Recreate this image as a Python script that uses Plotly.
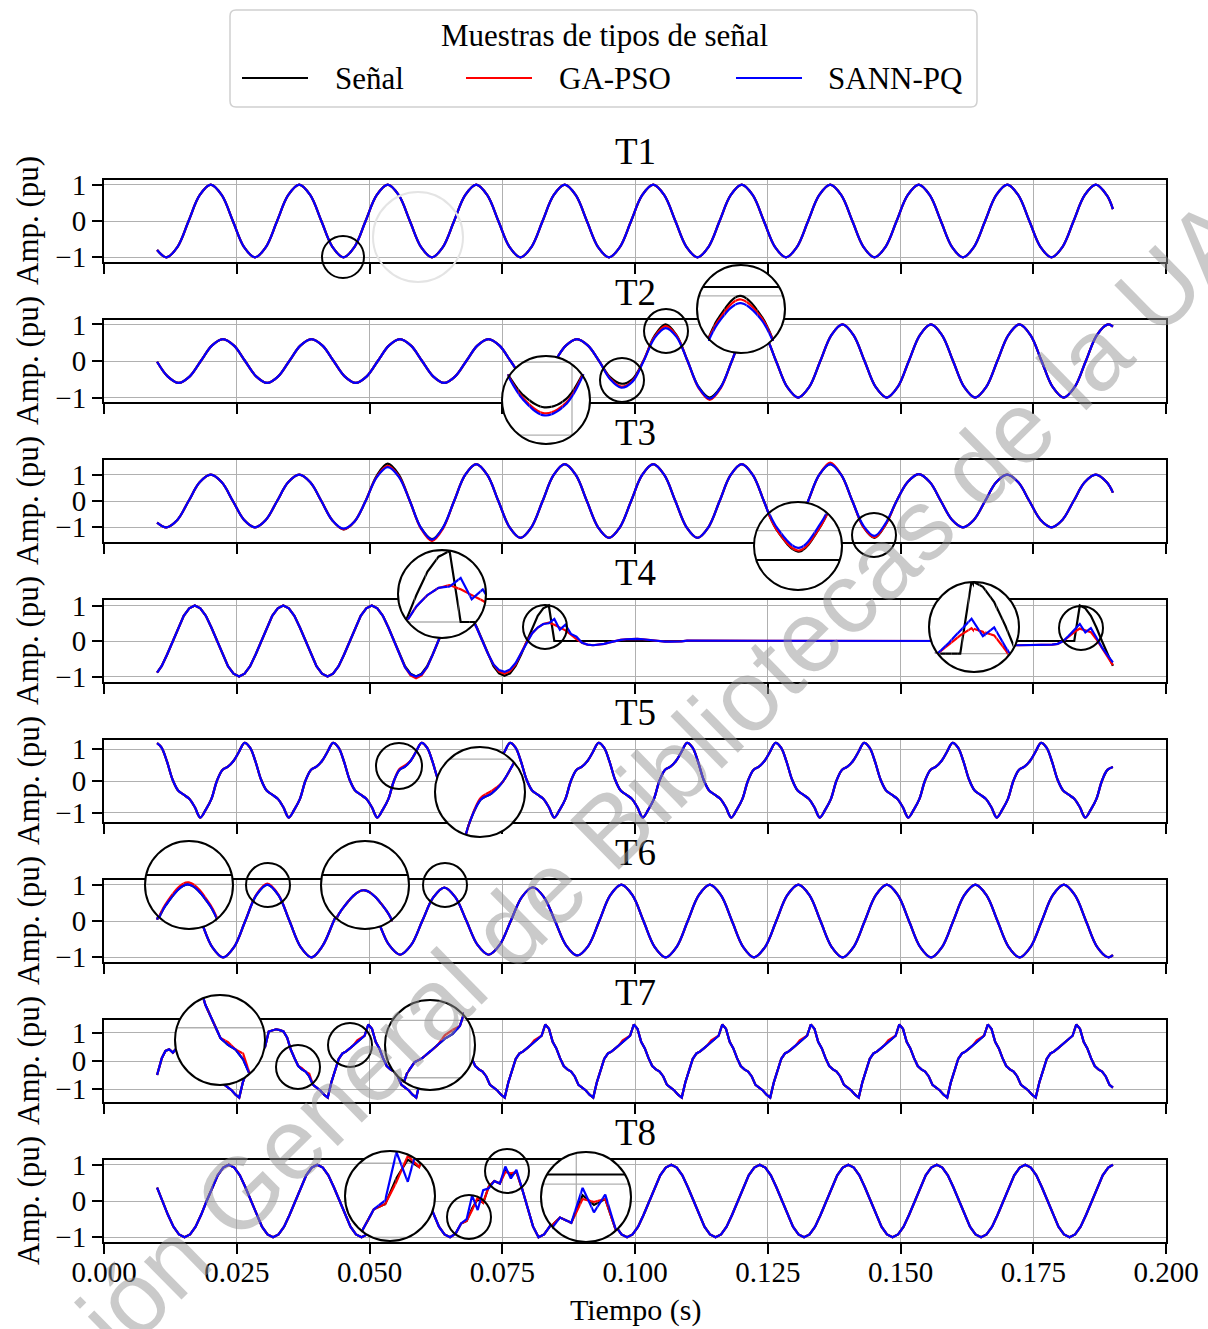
import numpy as np
import plotly.graph_objects as go

# ------------------------------------------------------------------
# Records: three traces per disturbance type (T1..T8), amplitude in pu
# over 0.01 s .. 0.19 s.  Each record is sampled on a regular clock
# locked to one reference crest/trough (ref_*, spc_* = samples/cycle at
# 60 Hz) plus the first and last instants.
# ------------------------------------------------------------------
T_FIRST, T_LAST = 0.01, 0.19
tick_times = [0.0, 0.025, 0.05, 0.075, 0.1, 0.125, 0.15, 0.175, 0.2]
tick_labels = ["0.000", "0.025", "0.050", "0.075", "0.100", "0.125", "0.150", "0.175", "0.200"]
amp_ticks = [-1, 0, 1]
titles = ["T1", "T2", "T3", "T4", "T5", "T6", "T7", "T8"]

# T1 - pure sine
ref_T1, spc_T1 = 0.0201, 8
senal_T1 = [
    -0.80,
    -1.00, -0.71, 0.00, 0.71,
    1.00, 0.71, 0.00, -0.71, -1.00, -0.71, 0.00, 0.71,
    1.00, 0.71, 0.00, -0.71, -1.00, -0.71, 0.00, 0.71,
    1.00, 0.71, 0.00, -0.71, -1.00, -0.71, 0.00, 0.71,
    1.00, 0.71, 0.00, -0.71, -1.00, -0.71, 0.00, 0.71,
    1.00, 0.71, 0.00, -0.71, -1.00, -0.71, 0.00, 0.71,
    1.00, 0.71, 0.00, -0.71, -1.00, -0.71, 0.00, 0.71,
    1.00, 0.71, 0.00, -0.71, -1.00, -0.71, 0.00, 0.71,
    1.00, 0.71, 0.00, -0.71, -1.00, -0.71, 0.00, 0.71,
    1.00, 0.71, 0.00, -0.71, -1.00, -0.71, 0.00, 0.71,
    1.00, 0.71, 0.00, -0.71, -1.00, -0.71, 0.00, 0.71,
    1.00, 0.71,
    0.33,
]
gapso_T1 = list(senal_T1)
sannpq_T1 = list(senal_T1)

# T2 - sag (0.6 pu) recovering near 0.1 s
ref_T2, spc_T2 = 0.0224, 8
senal_T2 = [
    -0.02,
    -0.42, -0.60, -0.42, 0.00, 0.42,
    0.60, 0.42, 0.00, -0.42, -0.60, -0.42, 0.00, 0.42,
    0.60, 0.42, 0.00, -0.42, -0.60, -0.42, 0.00, 0.42,
    0.60, 0.42, 0.00, -0.42, -0.60, -0.42, 0.00, 0.42,
    0.60, 0.42, 0.00, -0.42, -0.60, -0.42, 0.00, 0.42,
    0.60, 0.42, 0.00, -0.44, -0.62, -0.50, 0.00, 0.68,
    1.00, 0.71, 0.00, -0.71, -1.00, -0.71, 0.00, 0.71,
    1.00, 0.71, 0.00, -0.71, -1.00, -0.71, 0.00, 0.71,
    1.00, 0.71, 0.00, -0.71, -1.00, -0.71, 0.00, 0.71,
    1.00, 0.71, 0.00, -0.71, -1.00, -0.71, 0.00, 0.71,
    1.00, 0.71, 0.00, -0.71, -1.00, -0.71, 0.00, 0.71,
    1.00,
    0.94,
]
gapso_T2_dev = {0.0953: -0.48, 0.0974: -0.70, 0.0995: -0.55, 0.1036: 0.65, 0.1057: 0.95,
                0.1078: 0.69, 0.1120: -0.74, 0.1141: -1.06, 0.1162: -0.74}
sannpq_T2_dev = {0.0953: -0.50, 0.0974: -0.73, 0.0995: -0.57, 0.1016: -0.02, 0.1036: 0.62,
                 0.1057: 0.90, 0.1078: 0.66, 0.1120: -0.72, 0.1141: -1.03, 0.1162: -0.72}

# T3 - swell (1.4 pu) between 0.047 s and 0.15 s
ref_T3, spc_T3 = 0.0201, 8
senal_T3 = [
    -0.82,
    -1.00, -0.71, 0.00, 0.71,
    1.00, 0.71, 0.00, -0.71, -1.00, -0.71, 0.00, 0.71,
    1.00, 0.71, 0.00, -0.74, -1.08, -0.78, 0.00, 0.96,
    1.42, 1.00, 0.00, -1.02, -1.45, -1.01, 0.00, 0.99,
    1.40, 0.99, 0.00, -0.99, -1.40, -0.99, 0.00, 0.99,
    1.40, 0.99, 0.00, -0.99, -1.40, -0.99, 0.00, 0.99,
    1.40, 0.99, 0.00, -0.99, -1.40, -0.99, 0.00, 0.99,
    1.40, 0.99, 0.00, -1.00, -1.42, -1.00, 0.00, 0.99,
    1.40, 0.99, 0.00, -0.99, -1.40, -0.90, 0.00, 0.72,
    1.02, 0.72, 0.00, -0.71, -1.00, -0.71, 0.00, 0.71,
    1.00, 0.71, 0.00, -0.71, -1.00, -0.71, 0.00, 0.71,
    1.00, 0.71,
    0.32,
]
gapso_T3_dev = {0.0513: 0.92, 0.0534: 1.34, 0.0555: 0.95, 0.0597: -1.05, 0.0618: -1.52,
                0.0638: -1.05, 0.1284: -1.45, 0.1368: 1.46, 0.1451: -1.38}
sannpq_T3_dev = {0.0451: -1.05, 0.0513: 0.90, 0.0534: 1.29, 0.0555: 0.92, 0.0618: -1.47,
                 0.1430: -0.94, 0.1451: -1.33, 0.1472: -0.85}

# T4 - interruption 0.084 s .. 0.184 s
ref_T4, spc_T4 = 0.0171, 16
senal_T4 = [
    -0.89,
    -0.71, -0.38, 0.00, 0.38, 0.71, 0.92,
    1.00, 0.92, 0.71, 0.38, 0.00, -0.38, -0.71, -0.92, -1.00, -0.92, -0.71, -0.38, 0.00, 0.38, 0.71, 0.92,
    1.00, 0.92, 0.71, 0.38, 0.00, -0.38, -0.71, -0.92, -1.00, -0.92, -0.71, -0.38, 0.00, 0.38, 0.71, 0.92,
    1.00, 0.92, 0.71, 0.38, 0.00, -0.38, -0.71, -0.92, -1.00, -0.92, -0.71, -0.38, 0.00, 0.38, 0.71, 0.92,
    1.00, 0.92, 0.71, 0.38, 0.00, -0.38, -0.71, -0.91, -0.98, -0.91, -0.70, -0.38, 0.00, 0.38, 0.71, 0.92,
    1.00,
    0.00, 0.00, 0.00, 0.00, 0.00, 0.00, 0.00, 0.00, 0.00, 0.00, 0.00, 0.00, 0.00, 0.00, 0.00, 0.00,
    0.00, 0.00, 0.00, 0.00, 0.00, 0.00, 0.00, 0.00, 0.00, 0.00, 0.00, 0.00, 0.00, 0.00, 0.00, 0.00,
    0.00, 0.00, 0.00, 0.00, 0.00, 0.00, 0.00, 0.00, 0.00, 0.00, 0.00, 0.00, 0.00, 0.00, 0.00, 0.00,
    0.00, 0.00, 0.00, 0.00, 0.00, 0.00, 0.00, 0.00, 0.00, 0.00, 0.00, 0.00, 0.00, 0.00, 0.00, 0.00,
    0.00, 0.00, 0.00, 0.00, 0.00, 0.00, 0.00, 0.00, 0.00, 0.00, 0.00, 0.00, 0.00, 0.00, 0.00, 0.00,
    0.00, 0.00, 0.00, 0.00, 0.00, 0.00, 0.00, 0.00, 0.00, 0.00, 0.00, 0.00, 0.00, 0.00, 0.00,
    1.00, 0.92, 0.71, 0.38, 0.00, -0.38,
    -0.70,
]
gapso_T4 = [
    -0.89,
    -0.71, -0.38, 0.00, 0.38, 0.71, 0.92,
    1.00, 0.92, 0.71, 0.38, 0.00, -0.38, -0.71, -0.92, -1.00, -0.92, -0.71, -0.38, 0.00, 0.38, 0.71, 0.92,
    1.00, 0.92, 0.71, 0.38, 0.00, -0.38, -0.71, -0.92, -1.00, -0.92, -0.71, -0.38, 0.00, 0.38, 0.71, 0.92,
    1.00, 0.92, 0.71, 0.38, 0.00, -0.39, -0.74, -0.97, -1.05, -0.97, -0.74, -0.39, 0.00, 0.38, 0.70, 0.88,
    0.95, 0.87, 0.67, 0.36, 0.00, -0.36, -0.66, -0.86, -0.92, -0.85, -0.66, -0.36, -0.02, 0.22, 0.38, 0.48,
    0.52, 0.46, 0.38, 0.30, 0.18, 0.05, -0.05, -0.10, -0.12, -0.11, -0.08, -0.04, 0.00, 0.03, 0.05,
    0.06, 0.06, 0.05, 0.03, 0.01, -0.01, -0.02, -0.02, -0.02, -0.01,
    0.01, 0.01, 0.01, 0.01, 0.01, 0.01, 0.01, 0.01, 0.01, 0.01, 0.01, 0.01, 0.01,
    0.01, 0.01, 0.01, 0.01, 0.01, 0.01, 0.01, 0.01, 0.01, 0.01, 0.01, 0.01, 0.01,
    0.01, 0.01, 0.01, 0.01, 0.01, 0.01, 0.01, 0.01, 0.01, 0.01, 0.01, 0.01, 0.01,
    0.01, 0.01, 0.01, 0.01, 0.01, 0.01, 0.01, 0.01, 0.01, 0.01, 0.01, 0.01, 0.01,
    0.00, -0.02, -0.04, -0.06, -0.08, -0.10, -0.11, -0.12, -0.12, -0.12, -0.12, -0.11, -0.10,
    -0.10, -0.10, -0.08, 0.00, 0.12, 0.25,
    0.35, 0.30, 0.25, 0.05, -0.20, -0.45,
    -0.68,
]
sannpq_T4_dev = {0.0577: -0.94, 0.0588: -1.00, 0.0598: -0.94, 0.0744: -0.82, 0.0754: -0.87,
                 0.0765: -0.80, 0.0775: -0.62, 0.0786: -0.34, 0.0838: 0.50, 0.0848: 0.62,
                 0.0859: 0.32, 0.0869: 0.46, 0.0879: 0.20, 0.0890: 0.12, 0.1817: 0.15,
                 0.1827: 0.32, 0.1838: 0.48, 0.1848: 0.24, 0.1859: 0.36, 0.1869: 0.10,
                 0.1879: -0.18, 0.1890: -0.40, 0.1900: -0.60}

# T5 - harmonic distortion
ref_T5, spc_T5 = 0.0098, 16
senal_T5 = [
    1.19,
    1.05, 0.60, 0.04, -0.30, -0.43, -0.56, -0.82, -1.15, -0.90, -0.57, 0.00, 0.35, 0.45, 0.63, 0.92,
    1.20, 1.05, 0.60, 0.04, -0.30, -0.43, -0.56, -0.82, -1.15, -0.90, -0.57, 0.00, 0.35, 0.45, 0.63, 0.92,
    1.20, 1.05, 0.60, 0.04, -0.30, -0.43, -0.56, -0.82, -1.15, -0.90, -0.57, 0.00, 0.35, 0.45, 0.63, 0.92,
    1.20, 1.05, 0.60, 0.04, -0.30, -0.43, -0.56, -0.82, -1.15, -0.90, -0.57, 0.00, 0.35, 0.45, 0.63, 0.92,
    1.20, 1.05, 0.60, 0.04, -0.30, -0.43, -0.56, -0.82, -1.15, -0.90, -0.57, 0.00, 0.35, 0.45, 0.63, 0.92,
    1.20, 1.05, 0.60, 0.04, -0.30, -0.43, -0.56, -0.82, -1.15, -0.90, -0.57, 0.00, 0.35, 0.45, 0.63, 0.92,
    1.20, 1.05, 0.60, 0.04, -0.30, -0.43, -0.56, -0.82, -1.15, -0.90, -0.57, 0.00, 0.35, 0.45, 0.63, 0.92,
    1.20, 1.05, 0.60, 0.04, -0.30, -0.43, -0.56, -0.82, -1.15, -0.90, -0.57, 0.00, 0.35, 0.45, 0.63, 0.92,
    1.20, 1.05, 0.60, 0.04, -0.30, -0.43, -0.56, -0.82, -1.15, -0.90, -0.57, 0.00, 0.35, 0.45, 0.63, 0.92,
    1.20, 1.05, 0.60, 0.04, -0.30, -0.43, -0.56, -0.82, -1.15, -0.90, -0.57, 0.00, 0.35, 0.45, 0.63, 0.92,
    1.20, 1.05, 0.60, 0.04, -0.30, -0.43, -0.56, -0.82, -1.15, -0.90, -0.57, 0.00, 0.35,
    0.44,
]
gapso_T5_dev = {0.0556: 0.38, 0.0567: 0.49}
sannpq_T5 = list(senal_T5)

# T6 - light sag between 0.045 s and 0.095 s
ref_T6, spc_T6 = 0.0141, 8
senal_T6 = [
    0.04,
    0.71,
    1.00, 0.71, 0.00, -0.71, -1.00, -0.71, 0.00, 0.71,
    1.00, 0.71, 0.00, -0.71, -1.00, -0.68, 0.00, 0.65,
    0.90, 0.65, 0.00, -0.66, -0.93, -0.66, 0.00, 0.65,
    0.92, 0.65, 0.00, -0.66, -0.93, -0.66, 0.00, 0.66,
    0.93, 0.66, 0.00, -0.67, -0.95, -0.69, 0.00, 0.71,
    1.00, 0.71, 0.00, -0.71, -1.00, -0.71, 0.00, 0.71,
    1.00, 0.71, 0.00, -0.71, -1.00, -0.71, 0.00, 0.71,
    1.00, 0.71, 0.00, -0.71, -1.00, -0.71, 0.00, 0.71,
    1.00, 0.71, 0.00, -0.71, -1.00, -0.71, 0.00, 0.71,
    1.00, 0.71, 0.00, -0.71, -1.00, -0.71, 0.00, 0.71,
    1.00, 0.71, 0.00, -0.71, -1.00,
    -0.94,
]
gapso_T6_dev = {0.0287: 0.73, 0.0308: 1.03, 0.0329: 0.73}
sannpq_T6 = list(senal_T6)

# T7 - harmonics with notching
ref_T7, spc_T7 = 0.0088, 24
senal_T7 = [
    -0.50,
    -0.35, 0.10, 0.36, 0.42, 0.30, 0.45, 0.60, 0.75, 0.90, 1.25, 1.15, 0.70, 0.45, 0.10, -0.18, -0.30, -0.38, -0.55, -0.85, -0.95, -1.05, -1.20,
    -1.30, -0.75, -0.36, 0.00, 0.20, 0.30, 0.36, 0.50, 1.05, 1.10, 1.13, 1.10, 1.05, 0.83, 0.40, 0.10, -0.18, -0.30, -0.38, -0.55, -0.85, -0.95, -1.05, -1.20,
    -1.30, -0.75, -0.30, 0.08, 0.27, 0.34, 0.45, 0.56, 0.68, 0.76, 0.90, 1.30, 1.15, 0.68, 0.45, 0.10, -0.18, -0.30, -0.38, -0.55, -0.85, -0.95, -1.05, -1.20,
    -1.30, -0.75, -0.30, 0.08, 0.27, 0.34, 0.45, 0.56, 0.68, 0.76, 0.90, 1.30, 1.15, 0.68, 0.45, 0.10, -0.18, -0.30, -0.38, -0.55, -0.85, -0.95, -1.05, -1.20,
    -1.30, -0.75, -0.30, 0.08, 0.27, 0.34, 0.45, 0.56, 0.68, 0.76, 0.90, 1.30, 1.15, 0.68, 0.45, 0.10, -0.18, -0.30, -0.38, -0.55, -0.85, -0.95, -1.05, -1.20,
    -1.30, -0.75, -0.30, 0.08, 0.27, 0.34, 0.45, 0.56, 0.68, 0.76, 0.90, 1.30, 1.15, 0.68, 0.45, 0.10, -0.18, -0.30, -0.38, -0.55, -0.85, -0.95, -1.05, -1.20,
    -1.30, -0.75, -0.30, 0.08, 0.27, 0.34, 0.45, 0.56, 0.68, 0.76, 0.90, 1.30, 1.15, 0.68, 0.45, 0.10, -0.18, -0.30, -0.38, -0.55, -0.85, -0.95, -1.05, -1.20,
    -1.30, -0.75, -0.30, 0.08, 0.27, 0.34, 0.45, 0.56, 0.68, 0.76, 0.90, 1.30, 1.15, 0.68, 0.45, 0.10, -0.18, -0.30, -0.38, -0.55, -0.85, -0.95, -1.05, -1.20,
    -1.30, -0.75, -0.30, 0.08, 0.27, 0.34, 0.45, 0.56, 0.68, 0.76, 0.90, 1.30, 1.15, 0.68, 0.45, 0.10, -0.18, -0.30, -0.38, -0.55, -0.85, -0.95, -1.05, -1.20,
    -1.30, -0.75, -0.30, 0.08, 0.27, 0.34, 0.45, 0.56, 0.68, 0.76, 0.90, 1.30, 1.15, 0.68, 0.45, 0.10, -0.18, -0.30, -0.38, -0.55, -0.85, -0.95, -1.05, -1.20,
    -1.30, -0.75, -0.30, 0.08, 0.27, 0.34, 0.45, 0.56, 0.68, 0.76, 0.90, 1.30, 1.15, 0.68, 0.45, 0.10, -0.18, -0.30, -0.38, -0.55, -0.85,
    -0.95,
]
gapso_T7_dev = {0.0373: -0.25, 0.0387: -0.45,
                0.0477: 0.74, 0.0484: 0.83, 0.0644: 0.74, 0.0651: 0.83,
                0.0810: 0.74, 0.0817: 0.83, 0.0977: 0.74, 0.0984: 0.83,
                0.1144: 0.74, 0.1151: 0.83, 0.1310: 0.74, 0.1317: 0.83,
                0.1477: 0.74, 0.1484: 0.83, 0.1644: 0.74, 0.1651: 0.83}
sannpq_T7 = list(senal_T7)

# T8 - oscillatory transient near 0.068 s
ref_T8, spc_T8 = 0.0235, 16
senal_T8 = [
    0.37,
    0.00, -0.38, -0.71, -0.92, -1.00, -0.92, -0.71, -0.38, 0.00, 0.38, 0.71, 0.92,
    1.00, 0.92, 0.71, 0.38, 0.00, -0.38, -0.71, -0.92, -1.00, -0.92, -0.71, -0.38, 0.00, 0.38, 0.71, 0.92,
    1.00, 0.92, 0.71, 0.38, 0.00, -0.38, -0.71, -0.92, -1.00, -0.92, -0.71, -0.38, 0.00, 0.38, 0.71, 0.92,
    1.00, 0.92, 0.71, 0.38, 0.00, -0.38, -0.71, -0.92, -1.00, -0.90, -0.62, -0.55, -0.20, 0.05, -0.05, 0.40,
    0.55, 0.48, 0.85, 0.72, 0.80, 0.35, -0.15, -0.70, -1.00, -0.92, -0.71, -0.38, 0.00, 0.38, 0.71, 0.92,
    1.00, 0.92, 0.71, 0.38, 0.00, -0.38, -0.71, -0.92, -1.00, -0.92, -0.71, -0.38, 0.00, 0.38, 0.71, 0.92,
    1.00, 0.92, 0.71, 0.38, 0.00, -0.38, -0.71, -0.92, -1.00, -0.92, -0.71, -0.38, 0.00, 0.38, 0.71, 0.92,
    1.00, 0.92, 0.71, 0.38, 0.00, -0.38, -0.71, -0.92, -1.00, -0.92, -0.71, -0.38, 0.00, 0.38, 0.71, 0.92,
    1.00, 0.92, 0.71, 0.38, 0.00, -0.38, -0.71, -0.92, -1.00, -0.92, -0.71, -0.38, 0.00, 0.38, 0.71, 0.92,
    1.00, 0.92, 0.71, 0.38, 0.00, -0.38, -0.71, -0.92, -1.00, -0.92, -0.71, -0.38, 0.00, 0.38, 0.71, 0.92,
    1.00, 0.92, 0.71, 0.38, 0.00, -0.38, -0.71, -0.92, -1.00, -0.92, -0.71, -0.38, 0.00, 0.38, 0.71, 0.92,
    1.00,
]
gapso_T8_dev = {0.0694: -0.25, 0.0704: 0.10, 0.0756: 0.80, 0.0766: 0.76}
sannpq_T8_dev = {0.0683: -0.50, 0.0694: 0.15, 0.0704: -0.25, 0.0714: 0.30, 0.0725: 0.35,
                 0.0756: 0.95, 0.0766: 0.62, 0.0777: 0.86}


# ------------------------------------------------------------------
def time_base(ref, per_cycle, n):
    step = 1.0 / (60.0 * per_cycle)
    k0 = int(np.floor((T_FIRST - ref) / step)) + 1
    inner = ref + (k0 + np.arange(n - 2)) * step
    return np.concatenate([[T_FIRST], inner, [T_LAST]])


def with_changes(t, base, changes):
    out = list(base)
    for tc, v in changes.items():
        out[int(np.argmin(np.abs(t - tc)))] = v
    return out


t_T1 = time_base(ref_T1, spc_T1, len(senal_T1))
t_T2 = time_base(ref_T2, spc_T2, len(senal_T2))
t_T3 = time_base(ref_T3, spc_T3, len(senal_T3))
t_T4 = time_base(ref_T4, spc_T4, len(senal_T4))
t_T5 = time_base(ref_T5, spc_T5, len(senal_T5))
t_T6 = time_base(ref_T6, spc_T6, len(senal_T6))
t_T7 = time_base(ref_T7, spc_T7, len(senal_T7))
t_T8 = time_base(ref_T8, spc_T8, len(senal_T8))

panels = [
    dict(t=t_T1, s=senal_T1, g=gapso_T1, a=sannpq_T1, shape="spline", yr=1.13),
    dict(t=t_T2, s=senal_T2, g=with_changes(t_T2, senal_T2, gapso_T2_dev),
         a=with_changes(t_T2, senal_T2, sannpq_T2_dev), shape="spline", yr=1.12),
    dict(t=t_T3, s=senal_T3, g=with_changes(t_T3, senal_T3, gapso_T3_dev),
         a=with_changes(t_T3, senal_T3, sannpq_T3_dev), shape="spline", yr=1.56),
    dict(t=t_T4, s=senal_T4, g=gapso_T4, a=with_changes(t_T4, gapso_T4, sannpq_T4_dev),
         shape="linear", yr=1.155),
    dict(t=t_T5, s=senal_T5, g=with_changes(t_T5, senal_T5, gapso_T5_dev), a=sannpq_T5,
         shape="spline", yr=1.29),
    dict(t=t_T6, s=senal_T6, g=with_changes(t_T6, senal_T6, gapso_T6_dev), a=sannpq_T6,
         shape="spline", yr=1.13),
    dict(t=t_T7, s=senal_T7, g=with_changes(t_T7, senal_T7, gapso_T7_dev), a=sannpq_T7,
         shape="linear", yr=1.46),
    dict(t=t_T8, s=senal_T8, g=with_changes(t_T8, senal_T8, gapso_T8_dev),
         a=with_changes(t_T8, senal_T8, sannpq_T8_dev), shape="linear", yr=1.13),
]

# magnifier pairs per panel: (big circle cx, cy, R), (marked region cx, cy, r) in px
zooms = {
    1: [((546, 400, 44), (622, 380, 22)), ((741, 309, 44), (666, 331, 22))],
    2: [((798, 546, 44), (874, 535, 22))],
    3: [((442, 594, 44), (545, 627, 22)), ((974, 627, 45), (1081, 628, 22))],
    4: [((480, 792, 45), (399, 766, 23))],
    5: [((189, 885, 44), (268, 885, 22)), ((365, 885, 44), (445, 885, 22))],
    6: [((220, 1040, 45), (298, 1067, 22)), ((430, 1045, 45), (350, 1045, 22))],
    7: [((390, 1196, 45), (469, 1217, 22)), ((586, 1197, 45), (507, 1171, 22))],
}

# ------------------------------------------------------------------
W, H = 1208, 1329
SERIF = "Liberation Serif"
GRID = "#b0b0b0"
COLORS = ["#000000", "#ff0000", "#0000ff"]
NAMES = ["Señal", "GA-PSO", "SANN-PQ"]
X0P, X1P = 104, 1166
PX_PER_S = (X1P - X0P) / 0.2
LW = 2.2
N_STRIPS = 16

fig = go.Figure()
layout = {}
shapes = []
annotations = []


def px_t(px):
    return (px - X0P) / PX_PER_S


for i, p in enumerate(panels):
    sfx = "" if i == 0 else str(i + 1)
    top = 180 + 140 * i
    bot = top + 82
    mid = (top + bot) / 2.0
    for vals, col, nm in zip([p["s"], p["g"], p["a"]], COLORS, NAMES):
        fig.add_trace(go.Scatter(x=p["t"], y=vals, mode="lines", name=nm,
                                 line=dict(color=col, width=LW, shape=p["shape"]),
                                 xaxis="x" + sfx, yaxis="y" + sfx,
                                 showlegend=False, hoverinfo="skip"))
    axis_common = dict(showgrid=True, gridcolor=GRID, gridwidth=1.3, zeroline=False,
                       showline=True, linecolor="black", linewidth=2, mirror=True,
                       ticks="outside", ticklen=10, tickwidth=1.5, tickcolor="black",
                       automargin=False,
                       tickfont=dict(family=SERIF, size=29, color="black"))
    layout["xaxis" + sfx] = dict(axis_common, domain=[X0P / W, X1P / W], range=[0, 0.2],
                                 tickvals=tick_times, ticktext=tick_labels,
                                 ticklabelstandoff=-7,
                                 showticklabels=(i == len(panels) - 1), anchor="y" + sfx)
    layout["yaxis" + sfx] = dict(axis_common, domain=[1 - bot / H, 1 - top / H],
                                 range=[-p["yr"], p["yr"]], tickvals=amp_ticks,
                                 anchor="x" + sfx)
    annotations.append(dict(text=titles[i], x=(X0P + X1P) / 2 / W, y=1 - (top - 28) / H,
                            xref="paper", yref="paper", showarrow=False,
                            font=dict(family=SERIF, size=37, color="black"),
                            xanchor="center", yanchor="middle"))
    annotations.append(dict(text="Amp. (pu)", x=28 / W, y=1 - mid / H, xref="paper", yref="paper",
                            showarrow=False, textangle=-90,
                            font=dict(family=SERIF, size=31, color="black"),
                            xanchor="center", yanchor="middle"))

# magnified views: a frame subplot holding the white disc and grid chords,
# then vertical strips following the disc outline so the enlarged record
# stays inside the circle
ax_n = 8
for i, pairs in zooms.items():
    p = panels[i]
    top = 180 + 140 * i
    mid = top + 41
    upx = 82.0 / (2 * p["yr"])
    for (cx, cy, R), (sx, sy, r) in pairs:
        m = R / r
        tc = px_t(sx)
        vc = (mid - sy) / upx
        kx = m * PX_PER_S
        ky = m * upx
        ax_n += 1
        xa, ya = "x%d" % ax_n, "y%d" % ax_n
        layout["xaxis%d" % ax_n] = dict(domain=[(cx - R - 3) / W, (cx + R + 3) / W],
                                        range=[tc - (R + 3) / kx, tc + (R + 3) / kx],
                                        visible=False, anchor=ya, automargin=False)
        layout["yaxis%d" % ax_n] = dict(domain=[1 - (cy + R + 3) / H, 1 - (cy - R - 3) / H],
                                        range=[vc - (R + 3) / ky, vc + (R + 3) / ky],
                                        visible=False, anchor=xa, automargin=False)
        fig.add_trace(go.Scatter(x=[tc], y=[vc], mode="markers", marker=dict(opacity=0),
                                 xaxis=xa, yaxis=ya, showlegend=False, hoverinfo="skip"))
        shapes.append(dict(type="circle", xref=xa, yref=ya,
                           x0=tc - R / kx, x1=tc + R / kx, y0=vc - R / ky, y1=vc + R / ky,
                           fillcolor="white", line=dict(width=0, color="white"), layer="below"))
        for g in tick_times:
            d = (g - tc) * kx
            if abs(d) < R:
                h = np.sqrt(R * R - d * d)
                shapes.append(dict(type="line", xref=xa, yref=ya, x0=g, x1=g,
                                   y0=vc - h / ky, y1=vc + h / ky, layer="below",
                                   line=dict(color=GRID, width=1.3)))
        for g, col, wd in [(-1, GRID, 1.3), (0, GRID, 1.3), (1, GRID, 1.3),
                           (-p["yr"], "black", 2), (p["yr"], "black", 2)]:
            d = (vc - g) * ky
            if abs(d) < R:
                w = np.sqrt(R * R - d * d)
                shapes.append(dict(type="line", xref=xa, yref=ya, y0=g, y1=g,
                                   x0=tc - w / kx, x1=tc + w / kx, layer="below",
                                   line=dict(color=col, width=wd)))
        edges = np.linspace(-R, R, N_STRIPS + 1)
        for a0, a1 in zip(edges[:-1], edges[1:]):
            xm = 0.5 * (a0 + a1)
            hh = np.sqrt(R * R - xm * xm)
            ax_n += 1
            xs, ys = "x%d" % ax_n, "y%d" % ax_n
            layout["xaxis%d" % ax_n] = dict(domain=[(cx + a0) / W, (cx + a1) / W],
                                            range=[tc + a0 / kx, tc + a1 / kx],
                                            visible=False, anchor=ys, automargin=False)
            layout["yaxis%d" % ax_n] = dict(domain=[1 - (cy + hh) / H, 1 - (cy - hh) / H],
                                            range=[vc - hh / ky, vc + hh / ky],
                                            visible=False, anchor=xs, automargin=False)
            for vals, col in zip([p["s"], p["g"], p["a"]], COLORS):
                fig.add_trace(go.Scatter(x=p["t"], y=vals, mode="lines",
                                         line=dict(color=col, width=LW, shape=p["shape"]),
                                         xaxis=xs, yaxis=ys, showlegend=False, hoverinfo="skip"))


def circle(cx, cy, R, color="black", width=2):
    return dict(type="circle", xref="paper", yref="paper",
                x0=(cx - R) / W, x1=(cx + R) / W, y0=1 - (cy + R) / H, y1=1 - (cy - R) / H,
                line=dict(color=color, width=width), fillcolor="rgba(0,0,0,0)", layer="above")


shapes.append(circle(343, 257, 21))
shapes.append(circle(418, 237, 45, color="#e4e4e4", width=2))
for pairs in zooms.values():
    for (cx, cy, R), (sx, sy, r) in pairs:
        shapes.append(circle(cx, cy, R))
        shapes.append(circle(sx, sy, r))

# legend box
lx0, lx1, ly0, ly1, rad = 230, 977, 10, 107, 6


def pxp(x, y):
    return "%.5f,%.5f" % (x / W, 1 - y / H)


path = ("M " + pxp(lx0 + rad, ly0) + " L " + pxp(lx1 - rad, ly0) + " Q " + pxp(lx1, ly0) + " " + pxp(lx1, ly0 + rad)
        + " L " + pxp(lx1, ly1 - rad) + " Q " + pxp(lx1, ly1) + " " + pxp(lx1 - rad, ly1)
        + " L " + pxp(lx0 + rad, ly1) + " Q " + pxp(lx0, ly1) + " " + pxp(lx0, ly1 - rad)
        + " L " + pxp(lx0, ly0 + rad) + " Q " + pxp(lx0, ly0) + " " + pxp(lx0 + rad, ly0) + " Z")
shapes.append(dict(type="path", path=path, xref="paper", yref="paper",
                   line=dict(color="#d0d0d0", width=1.5), fillcolor="white", layer="above"))
annotations.append(dict(text="Muestras de tipos de señal", x=604 / W, y=1 - 35 / H,
                        xref="paper", yref="paper", showarrow=False,
                        font=dict(family=SERIF, size=31, color="black"),
                        xanchor="center", yanchor="middle"))
for (a, b, tx), col, nm in zip([(242, 308, 333), (466, 532, 557), (736, 802, 826)], COLORS, NAMES):
    shapes.append(dict(type="line", xref="paper", yref="paper", x0=a / W, x1=b / W,
                       y0=1 - 78 / H, y1=1 - 78 / H, line=dict(color=col, width=LW), layer="above"))
    annotations.append(dict(text=nm, x=tx / W, y=1 - 78 / H, xref="paper", yref="paper",
                            showarrow=False, font=dict(family=SERIF, size=31, color="black"),
                            xanchor="left", yanchor="middle"))

annotations.append(dict(text="Tiempo (s)", x=(X0P + X1P) / 2 / W, y=1 - 1310 / H,
                        xref="paper", yref="paper", showarrow=False,
                        font=dict(family=SERIF, size=30, color="black"),
                        xanchor="center", yanchor="middle"))

# library stamp across the sheet
annotations.append(dict(text="Dirección General de Bibliotecas de la UAQ", x=590 / W, y=1 - 849 / H,
                        xref="paper", yref="paper", showarrow=False, textangle=-44.5,
                        font=dict(family="Liberation Sans", size=101, color="rgba(150,150,150,0.5)"),
                        xanchor="center", yanchor="middle"))

fig.update_layout(width=W, height=H, margin=dict(l=0, r=0, t=0, b=0, autoexpand=False),
                  paper_bgcolor="white", plot_bgcolor="rgba(0,0,0,0)",
                  hovermode=False, showlegend=False,
                  shapes=shapes, annotations=annotations, **layout)
fig.write_html("out.html")
